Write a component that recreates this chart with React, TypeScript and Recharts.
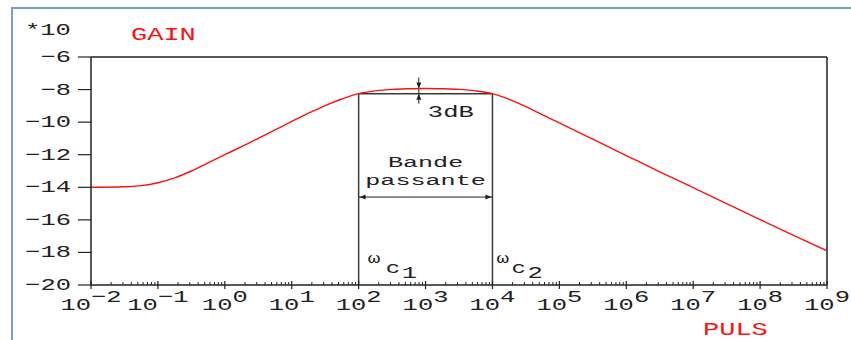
import React from 'react';
import { LineChart, Line, XAxis, YAxis, ReferenceLine } from 'recharts';

// Pulsation (rad/s) and gain (in units of 10 dB) of the band-pass response
const pulsation = [
  0.01, 0.0316, 0.0562, 0.1, 0.178, 0.316, 0.562, 1, 1.78, 3.16, 5.62, 10, 17.8, 31.6, 56.2,
  100, 178, 316, 562, 1000, 1780, 3160, 5620, 1e4, 1.78e4, 3.16e4, 5.62e4, 1e5,
  3.16e5, 1e6, 3.16e6, 1e7, 3.16e7, 1e8, 3.16e8, 1e9,
];
const gainValues = [
  -14.0, -13.97, -13.9, -13.72, -13.42, -13.0, -12.5, -12.0, -11.5, -11.0, -10.48, -9.96, -9.45, -8.98, -8.58,
  -8.25, -8.08, -7.99, -7.95, -7.93, -7.95, -7.99, -8.08, -8.25, -8.6, -9.05, -9.55, -10.05,
  -11.05, -12.05, -13.05, -14.02, -15.0, -15.98, -16.95, -17.9,
];

// Annotation values
const cutoffs = [100, 1e4];
const cutoffLabels = ['1', '2'];
const cutoffGain = -8.25;
const peakGain = -7.93;
const markerPulsation = 794;
const bandArrowGain = -14.6;
const bandLabel = ['Bande', 'passante'];

const yTicks = [-20, -18, -16, -14, -12, -10, -8, -6];
const decades = [-2, -1, 0, 1, 2, 3, 4, 5, 6, 7, 8, 9];

const curve = pulsation.map((w, i) => ({ w, gain: gainValues[i] }));

const xTicks: number[] = [];
decades.forEach((d) => {
  if (d === 9) {
    xTicks.push(1e9);
    return;
  }
  for (let m = 1; m <= 9; m++) xTicks.push(Number((m * Math.pow(10, d)).toPrecision(6)));
});

const FONT = "'Liberation Mono', 'DejaVu Sans Mono', monospace";
const SX = 1.5;
const INK = '#222';
const RED = '#ff1010';

function Mono({ x, y, children, size = 17, fill = INK, anchor = 'start', sx = SX }: any) {
  return (
    <text
      transform={`translate(${x},${y}) scale(${sx},1)`}
      x={0}
      y={0}
      fontFamily={FONT}
      fontSize={size}
      fill={fill}
      textAnchor={anchor}
    >
      {children}
    </text>
  );
}

const fmt = (n: number) => (n < 0 ? '\u2212' + Math.abs(n) : String(n));

function XTick({ x, y, payload }: any) {
  const v = payload.value;
  const lg = Math.log10(v);
  const isDecade = Math.abs(lg - Math.round(lg)) < 1e-6;
  if (!isDecade) {
    return <line x1={x} x2={x} y1={y - 3} y2={y} stroke={INK} strokeWidth={1} />;
  }
  const e = Math.round(lg);
  return (
    <g>
      <line x1={x} x2={x} y1={y - 4} y2={y + 4} stroke={INK} strokeWidth={1.2} />
      <text
        transform={`translate(${x},${y + 25}) scale(${SX},1)`}
        fontFamily={FONT}
        fontSize={17}
        fill={INK}
        textAnchor="middle"
      >
        10
        <tspan dy={-8}>{fmt(e)}</tspan>
      </text>
    </g>
  );
}

function YTick({ x, y, payload }: any) {
  return (
    <Mono x={x} y={y + 5} anchor="end">
      {fmt(payload.value)}
    </Mono>
  );
}

function Arrowhead({ x, y, dir }: { x: number; y: number; dir: 'l' | 'r' | 'u' | 'd' }) {
  const L = 6;
  const H = 2.5;
  let pts = '';
  if (dir === 'l') pts = `${x},${y} ${x + L},${y - H} ${x + L},${y + H}`;
  if (dir === 'r') pts = `${x},${y} ${x - L},${y - H} ${x - L},${y + H}`;
  if (dir === 'u') pts = `${x},${y} ${x - H},${y + L} ${x + H},${y + L}`;
  if (dir === 'd') pts = `${x},${y} ${x - H},${y - L} ${x + H},${y - L}`;
  return <polygon points={pts} fill={INK} />;
}

export default function App() {
  return (
    <div
      style={{
        position: 'absolute',
        left: 0,
        top: 0,
        width: 851,
        height: 340,
        overflow: 'hidden',
        background: '#fff',
      }}
    >
      <div
        style={{
          position: 'absolute',
          left: 11,
          top: 7,
          width: 1000,
          height: 1000,
          borderTop: '2px solid #7c9ccf',
          borderLeft: '2px solid #7c9ccf',
        }}
      />
      <div style={{ position: 'absolute', left: 0, top: 0 }}>
        <LineChart width={851} height={340} data={curve} margin={{ top: 57, right: 24, bottom: 0, left: 0 }}>
          <XAxis
            dataKey="w"
            type="number"
            scale="log"
            domain={[0.01, 1e9]}
            allowDataOverflow
            ticks={xTicks}
            interval={0}
            tickSize={0}
            tickMargin={0}
            tickLine={false}
            tick={<XTick />}
            height={55}
            stroke={INK}
            strokeWidth={1.5}
            label={{
              content: ({ viewBox }: any) => (
                <Mono x={viewBox.x + 612} y={viewBox.y + 50} fill={RED} size={18}>
                  PULS
                </Mono>
              ),
            }}
          />
          <YAxis
            type="number"
            domain={[-20, -6]}
            ticks={yTicks}
            interval={0}
            width={91}
            tickSize={13}
            tickMargin={7}
            tickLine={{ stroke: INK, strokeWidth: 1.2 }}
            tick={<YTick />}
            stroke={INK}
            strokeWidth={1.5}
            label={{
              content: ({ viewBox }: any) => (
                <g>
                  <Mono x={viewBox.x + 25} y={viewBox.y - 22}>
                    *10
                  </Mono>
                  <Mono x={viewBox.x + 131} y={viewBox.y - 17} fill={RED} size={18}>
                    GAIN
                  </Mono>
                </g>
              ),
            }}
          />

          {/* plot frame: top and right edges */}
          <ReferenceLine y={-6} stroke={INK} strokeWidth={1.5} />
          <ReferenceLine x={1e9} stroke={INK} strokeWidth={1.5} />

          {/* passband box */}
          {cutoffs.map((c, i) => (
            <ReferenceLine
              key={c}
              segment={[
                { x: c, y: -20 },
                { x: c, y: cutoffGain },
              ]}
              stroke="#3a3a3a"
              strokeWidth={1.5}
              shape={(p: any) => (
                <g>
                  <line x1={p.x1} y1={p.y1} x2={p.x2} y2={p.y2} stroke="#3a3a3a" strokeWidth={1.5} />
                  <Mono x={p.x1 + (i === 0 ? 9 : 4)} y={Math.max(p.y1, p.y2) - 22} size={14}>
                    {'\u03c9'}
                  </Mono>
                  <Mono x={p.x1 + (i === 0 ? 27 : 19)} y={Math.max(p.y1, p.y2) - 12} size={16}>
                    c
                  </Mono>
                  <Mono x={p.x1 + (i === 0 ? 43 : 35)} y={Math.max(p.y1, p.y2) - 7} size={17}>
                    {cutoffLabels[i]}
                  </Mono>
                </g>
              )}
            />
          ))}
          <ReferenceLine
            segment={[
              { x: cutoffs[0], y: cutoffGain },
              { x: cutoffs[1], y: cutoffGain },
            ]}
            stroke="#3a3a3a"
            strokeWidth={1.5}
          />

          {/* bandwidth arrow with its two-line caption */}
          <ReferenceLine
            segment={[
              { x: cutoffs[0], y: bandArrowGain },
              { x: cutoffs[1], y: bandArrowGain },
            ]}
            shape={(p: any) => {
              const cx = (p.x1 + p.x2) / 2;
              return (
                <g>
                  <line x1={p.x1} y1={p.y1} x2={p.x2} y2={p.y2} stroke={INK} strokeWidth={1} />
                  <Arrowhead x={p.x1 + 1} y={p.y1} dir="l" />
                  <Arrowhead x={p.x2 - 1} y={p.y2} dir="r" />
                  <Mono x={cx} y={p.y1 - 30} anchor="middle" size={15.5} sx={1.62}>
                    {bandLabel[0]}
                  </Mono>
                  <Mono x={cx} y={p.y1 - 12} anchor="middle" size={15.5} sx={1.62}>
                    {bandLabel[1]}
                  </Mono>
                </g>
              );
            }}
          />

          {/* 3 dB marker */}
          <ReferenceLine
            segment={[
              { x: markerPulsation, y: peakGain },
              { x: markerPulsation, y: cutoffGain },
            ]}
            shape={(p: any) => {
              const top = Math.min(p.y1, p.y2);
              const bot = Math.max(p.y1, p.y2);
              return (
                <g>
                  <line x1={p.x1} y1={top - 11} x2={p.x1} y2={bot + 10} stroke={INK} strokeWidth={1} />
                  <Arrowhead x={p.x1} y={top} dir="d" />
                  <Arrowhead x={p.x1} y={bot} dir="u" />
                  <Mono x={p.x1 + 9} y={bot + 23}>
                    3dB
                  </Mono>
                </g>
              );
            }}
          />

          <Line
            type="monotone"
            dataKey="gain"
            stroke={RED}
            strokeWidth={1.4}
            dot={false}
            isAnimationActive={false}
          />
        </LineChart>
      </div>
    </div>
  );
}
